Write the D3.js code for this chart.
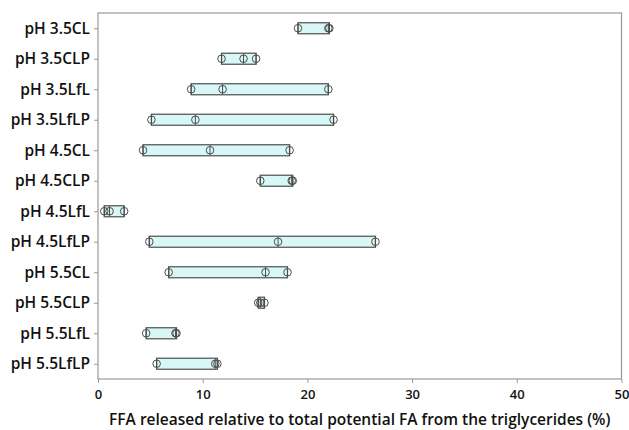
<!DOCTYPE html>
<html>
<head>
<meta charset="utf-8">
<script src="https://cdn.jsdelivr.net/npm/d3@7"></script>
<style>
  body { margin: 0; background: #fff; }
  text { font-family: "Open Sans", "Noto Sans", sans-serif; }
</style>
</head>
<body>
<svg id="chart"></svg>
<script>
// groups, top to bottom
const groups = [
  "pH 3.5CL", "pH 3.5CLP", "pH 3.5LfL", "pH 3.5LfLP",
  "pH 4.5CL", "pH 4.5CLP", "pH 4.5LfL", "pH 4.5LfLP",
  "pH 5.5CL", "pH 5.5CLP", "pH 5.5LfL", "pH 5.5LfLP"
];
// three replicate values per group (% FFA released)
const rep1 = [19.1, 11.8, 8.9, 5.1, 4.3, 15.5, 0.6, 4.9, 6.75, 15.3, 4.6, 5.6];
const rep2 = [22.0, 13.9, 11.9, 9.3, 10.7, 18.5, 1.1, 17.2, 16.0, 15.5, 7.4, 11.2];
const rep3 = [22.1, 15.1, 22.0, 22.5, 18.3, 18.6, 2.5, 26.5, 18.1, 15.9, 7.5, 11.4];
const xTicks = [0, 10, 20, 30, 40, 50];
const xTitle = "FFA released relative to total potential FA from the triglycerides (%)";

const W = 629, H = 430;
const margin = { top: 13, right: 7.5, bottom: 51, left: 98 };
const width = W - margin.left - margin.right;
const height = H - margin.top - margin.bottom;

const svg = d3.select("#chart").attr("width", W).attr("height", H);
const g = svg.append("g")
  .attr("transform", "translate(" + margin.left + "," + margin.top + ")");

// Scales
const x = d3.scaleLinear().domain([0, 50]).range([0, width]);
const y = d3.scalePoint().domain(groups).range([0, height]).padding(0.5);

const rows = groups.map((grp, i) => {
  const vals = [rep1[i], rep2[i], rep3[i]];
  return { grp: grp, vals: vals, lo: d3.min(vals), hi: d3.max(vals) };
});

// Axes
const xAxis = d3.axisBottom(x).tickValues(xTicks).tickSize(4).tickSizeOuter(0);
const yAxis = d3.axisLeft(y).tickSize(4).tickSizeOuter(0);

const gx = g.append("g")
  .attr("transform", "translate(0," + height + ")")
  .call(xAxis);
gx.select(".domain").remove();
gx.selectAll(".tick line").attr("stroke", "#999");
gx.selectAll(".tick text")
  .attr("dy", "1.0em")
  .attr("fill", "#111")
  .style("font-size", "13px")
  .style("font-weight", "600");

const gy = g.append("g").call(yAxis);
gy.select(".domain").remove();
gy.selectAll(".tick line").attr("stroke", "#999");
gy.selectAll(".tick text")
  .attr("x", -8)
  .attr("fill", "#111")
  .style("font-size", "15.5px")
  .style("font-weight", "600");

// frame
g.append("rect")
  .attr("width", width)
  .attr("height", height)
  .attr("fill", "none")
  .attr("stroke", "#999")
  .attr("stroke-width", 1.2);

// range bars
g.selectAll(".bar")
  .data(rows)
  .enter()
  .append("rect")
  .attr("class", "bar")
  .attr("x", (d) => x(d.lo))
  .attr("y", (d) => y(d.grp) - 5.5)
  .attr("width", (d) => x(d.hi) - x(d.lo))
  .attr("height", 11)
  .attr("fill", "#d8f8f8")
  .attr("stroke", "#5a5a5a")
  .attr("stroke-width", 1.3);

// individual values
const pts = rows.flatMap((d) => d.vals.map((v) => ({ grp: d.grp, v: v })));
const sym = g.selectAll(".pt")
  .data(pts)
  .enter()
  .append("g")
  .attr("class", "pt")
  .attr("transform", (d) => "translate(" + x(d.v) + "," + y(d.grp) + ")");
sym.append("circle")
  .attr("r", 3.8)
  .attr("fill", "none")
  .attr("stroke", "#4d4d4d")
  .attr("stroke-width", 1);
sym.append("line")
  .attr("y1", -5)
  .attr("y2", 5)
  .attr("stroke", "#4d4d4d")
  .attr("stroke-width", 1);

// axis title
g.append("text")
  .attr("x", width / 2)
  .attr("y", height + 46)
  .attr("text-anchor", "middle")
  .attr("fill", "#111")
  .style("font-size", "15.5px")
  .style("font-weight", "600")
  .text(xTitle);
</script>
</body>
</html>
